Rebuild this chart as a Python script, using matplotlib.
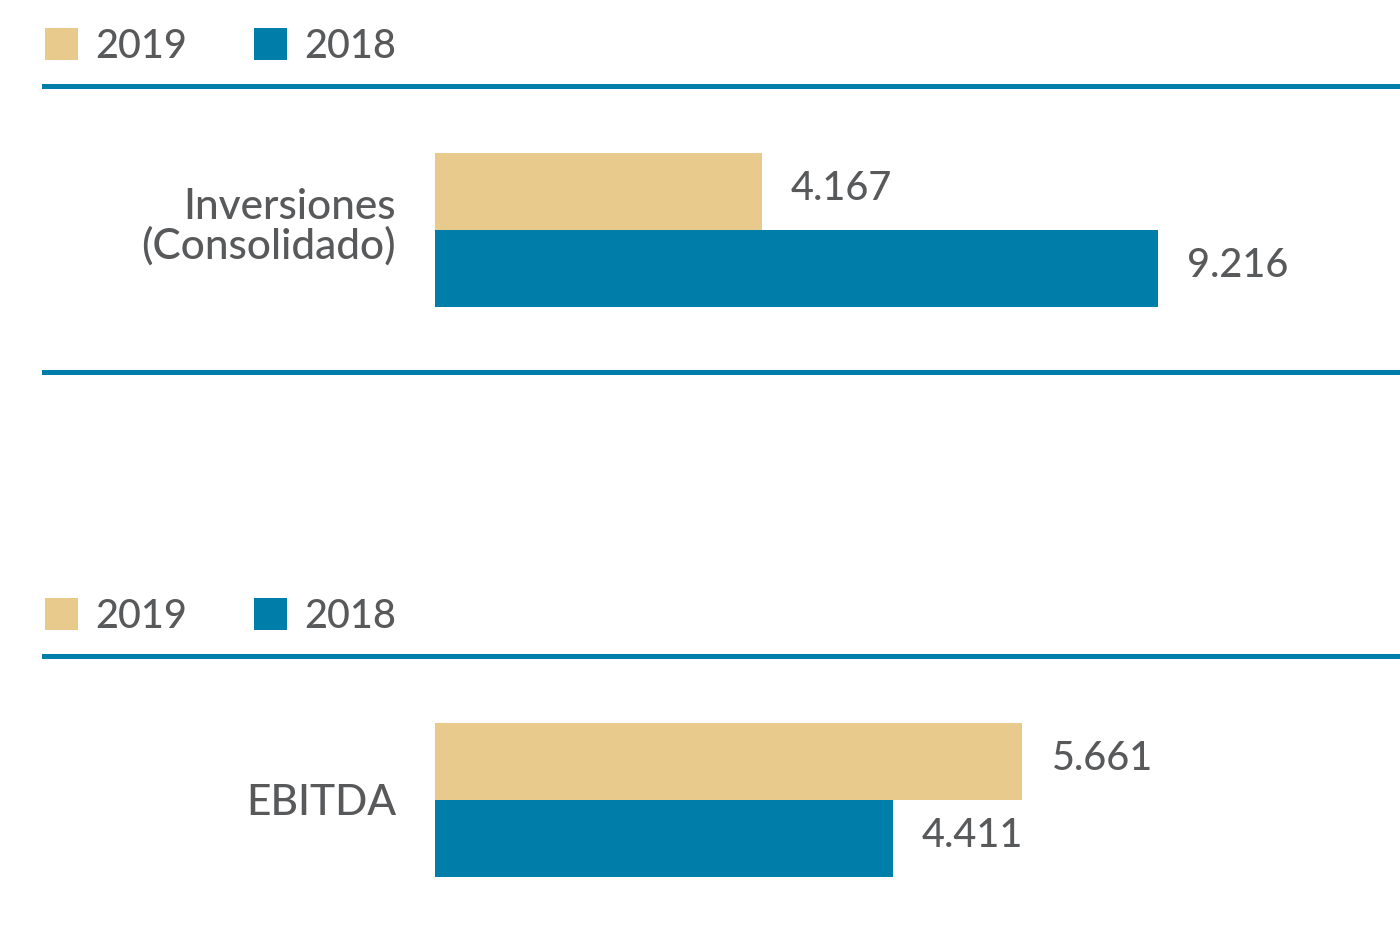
import matplotlib.pyplot as plt
from matplotlib.lines import Line2D
from matplotlib.patches import Rectangle

# figures (millions) for each block
years = ["2019", "2018"]
inversiones = [4.167, 9.216]
ebitda = [5.661, 4.411]
value_labels_inv = ["4.167", "9.216"]
value_labels_ebitda = ["5.661", "4.411"]

GOLD = "#e8ca8c"
BLUE = "#007eaa"
GREY = "#58595b"
W, H = 1400, 929

plt.rcParams["font.family"] = ["Lato", "DejaVu Sans"]
plt.rcParams["font.weight"] = "medium"

fig = plt.figure(figsize=(14, 9.29), dpi=100)


def fx(px):
    return px / W


def fy(py):
    return 1 - py / H


def panel(top, label, values, texts, xmax, label_y=0.45, bottom_line=True):
    # legend squares + years
    for i, (yr, col) in enumerate(zip(years, [GOLD, BLUE])):
        x0 = 45 + i * 209
        fig.add_artist(Rectangle((fx(x0), fy(top - 26)), fx(33), 32 / H,
                                 transform=fig.transFigure, color=col, lw=0))
        fig.text(fx(x0 + 50), fy(top - 40), yr, fontsize=28.5, color=GREY,
                 va="center", ha="left")

    # separator lines
    lines = [top] + ([top + 286] if bottom_line else [])
    for ly in lines:
        fig.add_artist(Line2D([fx(44), 1], [fy(ly), fy(ly)],
                              transform=fig.transFigure, color=BLUE, lw=3.6))

    ax = fig.add_axes([fx(435), fy(top + 286), fx(965), 286 / H])
    pos = list(range(len(values)))
    ax.barh(pos, values, height=1.0, color=[GOLD, BLUE], lw=0)
    ax.set_xlim(0, xmax)
    ax.set_ylim(1.5 + 65 / 77, -0.5 - 67 / 77)
    for p, v, t in zip(pos, values, texts):
        ax.annotate(t, (v, p), xytext=(21, 3), textcoords="offset points",
                    fontsize=28.5, color=GREY, va="center", ha="left")
    ax.text(-39 / 965, label_y, label, transform=ax.get_yaxis_transform(),
            fontsize=30.5, color=GREY, ha="right", va="center",
            linespacing=1.0)
    ax.axis("off")
    return ax


panel(87, "Inversiones\n(Consolidado)", inversiones, value_labels_inv, 12.3)
panel(657, "EBITDA", ebitda, value_labels_ebitda, 9.3, label_y=0.52,
      bottom_line=False)

fig.savefig("out.png", dpi=100, facecolor="white")
